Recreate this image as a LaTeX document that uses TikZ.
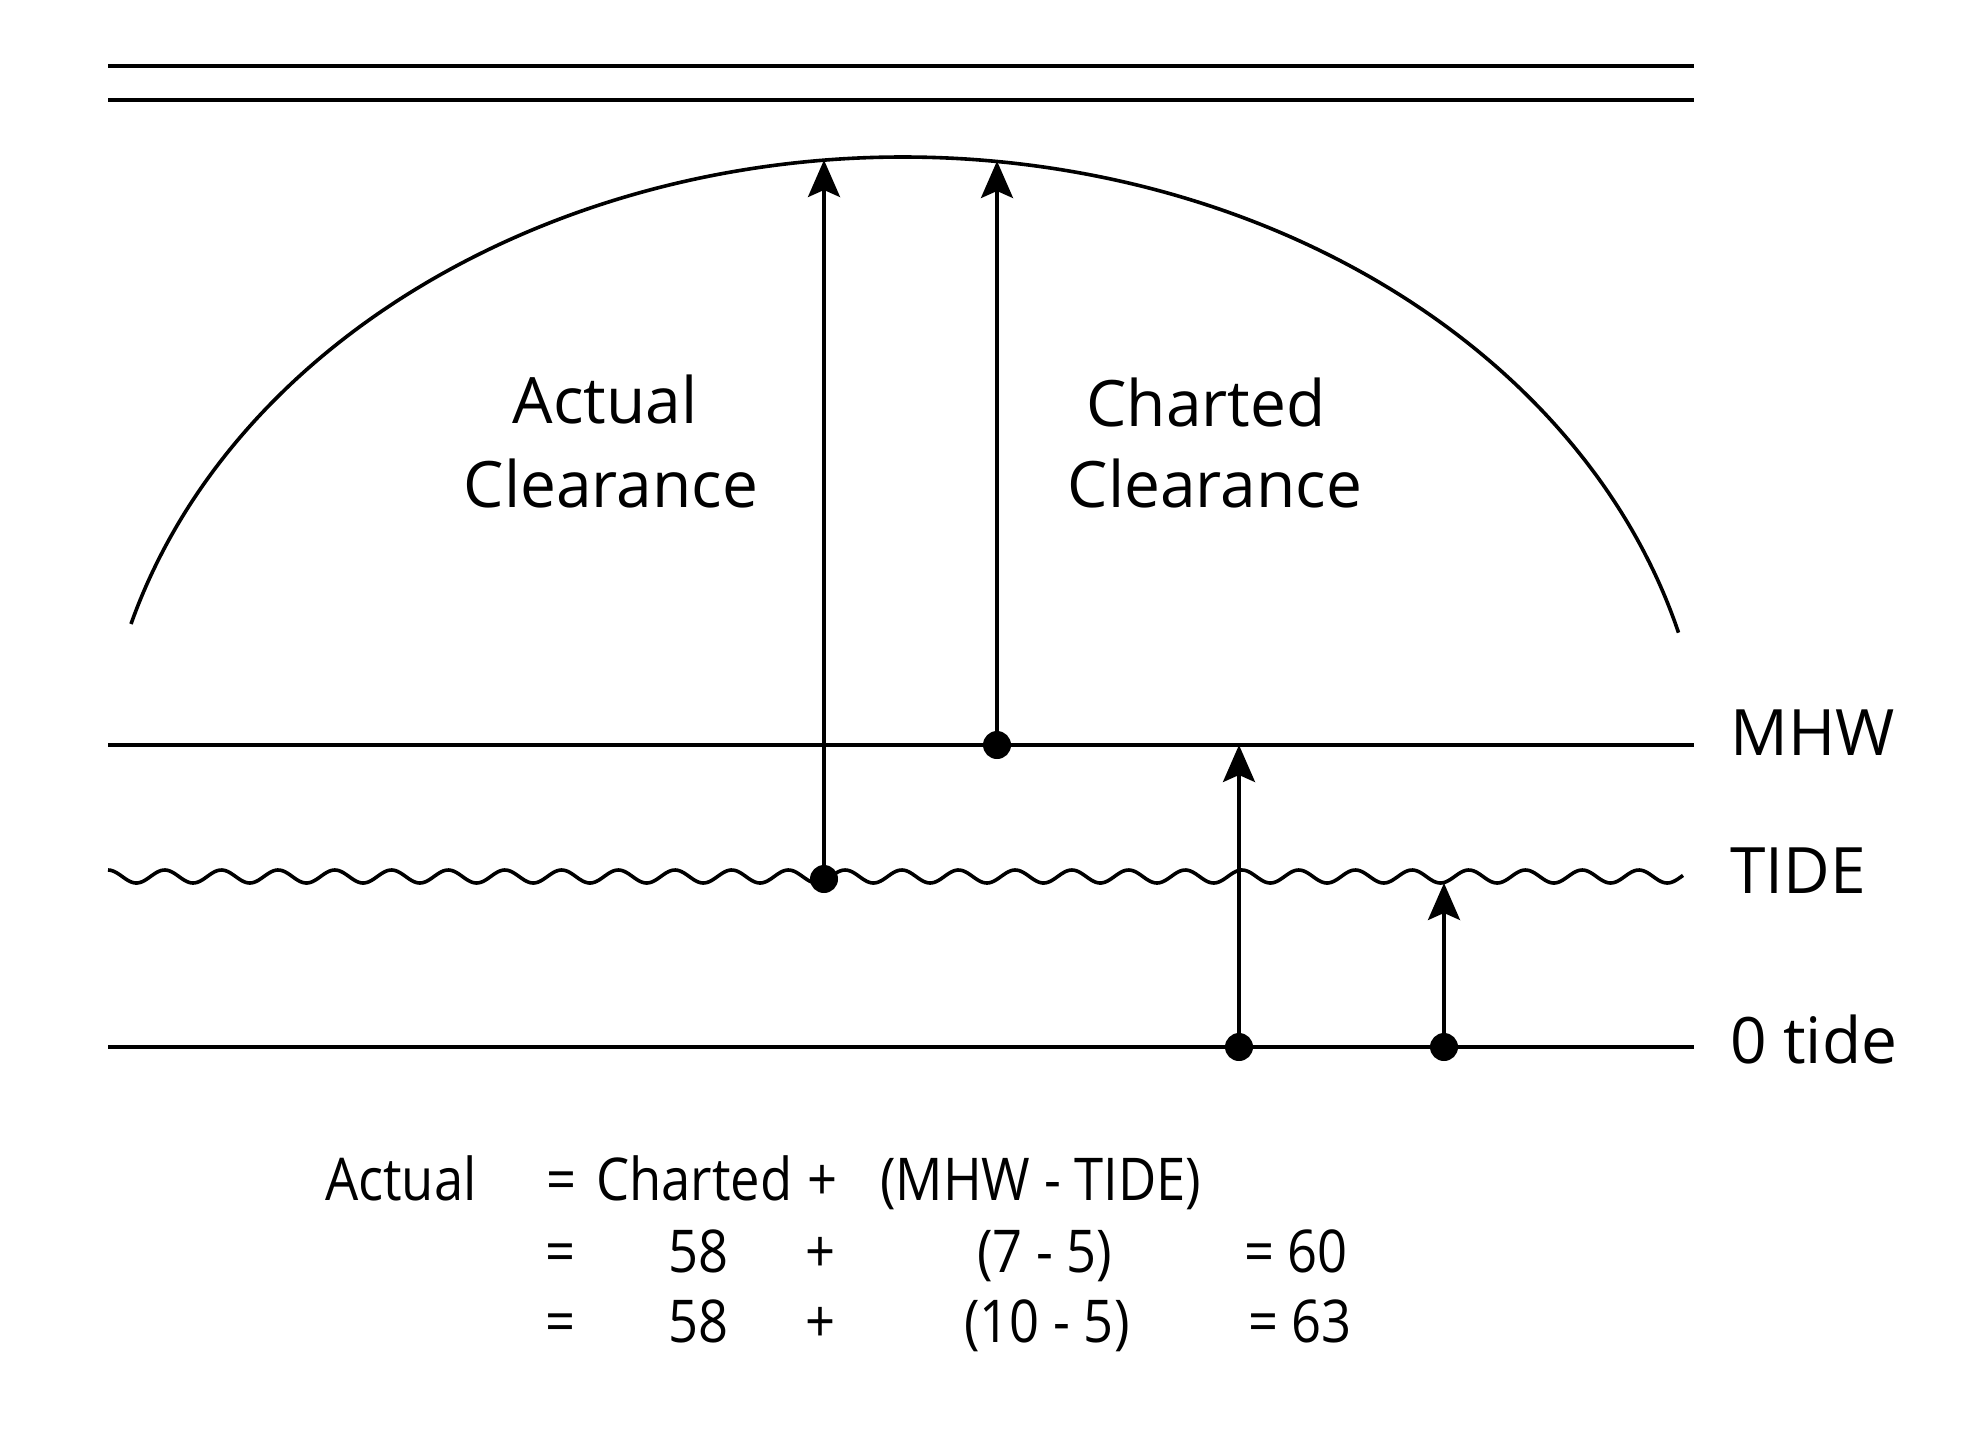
\documentclass[tikz,border=0pt]{standalone}
\usepackage{fontspec}
\setmainfont{Open Sans}
\newfontfamily\eqfont[FakeStretch=0.89]{Open Sans}
\usetikzlibrary{arrows.meta}

\begin{document}
\begin{tikzpicture}[
    x=1pt, y=-1pt,
    line/.style={line width=3.6pt},
    arrow/.style={line width=3.4pt, -{Stealth[length=37pt, width=32pt, inset=7pt]}},
    dot/.style={circle, fill, inner sep=0pt, minimum size=28pt},
    lvltext/.style={font=\fontsize{64}{76}\selectfont, inner sep=0pt},
    eqtext/.style={font=\eqfont\fontsize{59}{70}\selectfont, inner sep=0pt, anchor=base west},
  ]
  \useasboundingbox (0,0) rectangle (1966,1438);

  % bridge deck and arch
  \draw[line, line width=4pt] (108,66) -- (1694,66);
  \draw[line, line width=4pt] (108,100) -- (1694,100);
  \draw[line] (131,624) arc[start angle=164.1, end angle=15.1,
    x radius=803pt, y radius=643pt];

  % water levels
  \draw[line] (108,745) -- (1694,745);
  \draw[line] plot[domain=108:1683, samples=800]
    (\x, {876.5-6.5*cos((\x-108)*6.3492)});
  \draw[line] (108,1047) -- (1694,1047);

  \node[lvltext, anchor=base west] (mhw) at (1730,755) {MHW};
  \node[lvltext, anchor=base west] (tide) at (1730,893) {TIDE};
  \node[lvltext, anchor=base west] (zero) at (1730,1063) {0 tide};

  % clearance labels
  \node[lvltext, anchor=base] (actual) at (605,423) {Actual};
  \node[lvltext, anchor=base] (actclr) at (611,507) {Clearance};
  \node[lvltext, anchor=base] (charted) at (1206,426) {Charted};
  \node[lvltext, anchor=base] (chaclr) at (1215,507) {Clearance};

  % arrows
  \coordinate (archA) at (824,160);
  \coordinate (archC) at (997,161);
  \coordinate (mhwM) at (1239,745);
  \coordinate (tideT) at (1444,883);
  \node[dot] (dotA) at (824,879) {};
  \node[dot] (dotC) at (997,745) {};
  \node[dot] (dotM) at (1239,1047) {};
  \node[dot] (dotT) at (1444,1047) {};

  \draw[arrow] (dotA.center) -- (archA);
  \draw[arrow] (dotC.center) -- (archC);
  \draw[arrow] (dotM.center) -- (mhwM);
  \draw[arrow] (dotT.center) -- (tideT);

  % formula
  \node[eqtext] (eqact) at (325,1200) {Actual};
  \node[eqtext] (eqa) at (546,1200) {=};
  \node[eqtext] (eqcha) at (596,1200) {Charted};
  \node[eqtext] (eqpa) at (807,1200) {+};
  \node[eqtext] (eqdiff) at (880,1200) {(MHW - TIDE)};

  \node[eqtext] (eqb) at (545,1272) {=};
  \node[eqtext] (eqnb) at (668,1272) {58};
  \node[eqtext] (eqpb) at (805,1272) {+};
  \node[eqtext] (eqdb) at (977,1272) {(7 - 5)};
  \node[eqtext] (eqrb) at (1244,1272) {= 60};

  \node[eqtext] (eqc) at (545,1342) {=};
  \node[eqtext] (eqnc) at (668,1342) {58};
  \node[eqtext] (eqpc) at (805,1342) {+};
  \node[eqtext] (eqdc) at (964,1342) {(10 - 5)};
  \node[eqtext] (eqrc) at (1248,1342) {= 63};
\end{tikzpicture}
\end{document}
